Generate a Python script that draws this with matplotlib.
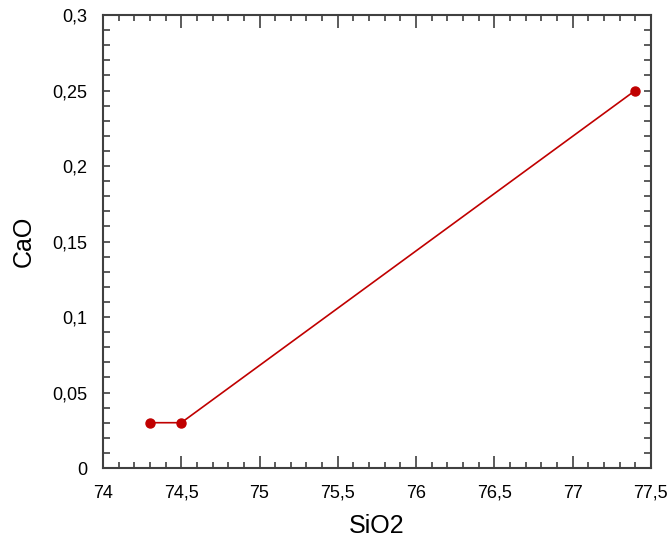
import matplotlib.pyplot as plt
from matplotlib.ticker import MultipleLocator, FuncFormatter

plt.rcParams['font.family'] = ['Liberation Sans', 'DejaVu Sans']

# data
sio2 = [74.3, 74.5, 77.4]
cao = [0.03, 0.03, 0.25]

fig = plt.figure(figsize=(6.71, 5.44), dpi=100)
ax = fig.add_axes([0.1535, 0.1397, 0.8165, 0.8327])

ax.plot(sio2, cao, color="#c00000", linewidth=1.2, marker="o", markersize=6.5)

ax.set_xlim(74, 77.5)
ax.set_ylim(0, 0.3)
ax.xaxis.set_major_locator(MultipleLocator(0.5))
ax.xaxis.set_minor_locator(MultipleLocator(0.1))
ax.yaxis.set_major_locator(MultipleLocator(0.05))
ax.yaxis.set_minor_locator(MultipleLocator(0.01))

comma = FuncFormatter(lambda v, p: ("%g" % round(v, 3)).replace(".", ","))
ax.xaxis.set_major_formatter(comma)
ax.yaxis.set_major_formatter(comma)

edge = "#404040"
for s in ax.spines.values():
    s.set_color(edge)
    s.set_linewidth(1.5)

ax.tick_params(which="both", direction="in", top=True, right=True, color=edge, width=1.2)
ax.tick_params(axis="x", which="major", length=9, pad=12, labelsize=13)
ax.tick_params(axis="x", which="minor", length=4.5)
ax.tick_params(axis="y", which="both", length=5, labelsize=13)
ax.tick_params(axis="y", which="major", pad=11)

ax.set_xlabel("SiO2", fontsize=18, labelpad=9)
ax.set_ylabel("CaO", fontsize=18, labelpad=12)

fig.savefig("out.png", dpi=100)
